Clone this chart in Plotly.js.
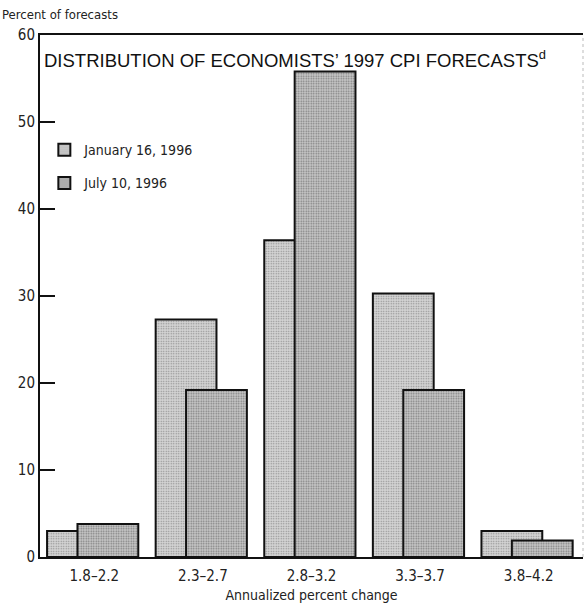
<!DOCTYPE html>
<html>
<head>
<meta charset="utf-8">
<script src="https://cdn.plot.ly/plotly-3.0.1.min.js"></script>
<style>html,body{margin:0;padding:0;background:#fff;}#chart{width:585px;height:607px;}</style>
</head>
<body>
<div id="chart"></div>
<script>
const categories = ["1.8–2.2", "2.3–2.7", "2.8–3.2", "3.3–3.7", "3.8–4.2"];
const janValues = [3.0, 27.3, 36.4, 30.3, 3.0];
const julValues = [3.8, 19.2, 55.8, 19.2, 1.9];
const seriesNames = ["January 16, 1996", "July 10, 1996"];
const yTicks = [0, 10, 20, 30, 40, 50, 60];

const narrow = "Liberation Sans Narrow, DejaVu Sans Condensed, Arial Narrow, sans-serif";

const traces = [
  {
    type: "bar", x: categories, y: janValues, name: seriesNames[0],
    width: 0.56, offset: -0.435, legendgroup: "a",
    marker: {color: "#c9c9c9", line: {color: "#111", width: 2},
      pattern: {shape: ".", fgcolor: "#8a8a8a", bgcolor: "#d4d4d4", size: 2.5, solidity: 0.25}},
    hoverinfo: "skip"
  },
  {
    type: "bar", x: categories, y: julValues, name: seriesNames[1],
    width: 0.56, offset: -0.155, legendgroup: "b",
    marker: {color: "#b9b9b9", line: {color: "#111", width: 2},
      pattern: {shape: ".", fgcolor: "#7a7a7a", bgcolor: "#c8c8c8", size: 2.5, solidity: 0.35}},
    hoverinfo: "skip"
  }
];

const layout = {
  width: 585, height: 607,
  margin: {l: 40, r: 2, t: 35, b: 50},
  paper_bgcolor: "#fff", plot_bgcolor: "#fff",
  barmode: "overlay",
  showlegend: true,
  legend: {x: 0.008, y: 0.81, xanchor: "left", yanchor: "top", bgcolor: "rgba(0,0,0,0)",
    font: {family: narrow, size: 14, color: "#222"}, traceorder: "grouped", tracegroupgap: 12},
  xaxis: {
    type: "category", range: [-0.5, 4.5], showline: true, linecolor: "#111", linewidth: 2,
    mirror: true, ticks: "", showgrid: false, zeroline: false, ticklabelstandoff: 4,
    tickfont: {family: narrow, size: 15, color: "#222"},
    title: {text: "Annualized percent change", font: {family: narrow, size: 14, color: "#222"}, standoff: 6}
  },
  yaxis: {
    range: [0, 60], tickvals: yTicks, showline: true, linecolor: "#111", linewidth: 2,
    ticks: "inside", ticklen: 15, tickwidth: 2, tickcolor: "#111", showgrid: false, zeroline: false,
    tickfont: {family: narrow, size: 15, color: "#222"}, ticklabelstandoff: 0
  },
  annotations: [
    {xref: "paper", yref: "paper", x: 0.004, y: 0.98, xanchor: "left", yanchor: "top", showarrow: false,
      text: "DISTRIBUTION OF ECONOMISTS’ 1997 CPI FORECASTS<sup>d</sup>",
      font: {family: "Liberation Sans, Arial, sans-serif", size: 18.5, color: "#111"}},
    {xref: "paper", yref: "paper", x: -0.0735, y: 1.0, xanchor: "left", yanchor: "bottom", yshift: 11, showarrow: false,
      text: "Percent of forecasts", font: {family: narrow, size: 13, color: "#222"}}
  ],
  shapes: [
    {type: "line", xref: "paper", yref: "paper", x0: 1, x1: 1, y0: 0, y1: 1,
      line: {color: "#bbb", width: 1, dash: "dot"}}
  ]
};

Plotly.newPlot("chart", traces, layout, {displayModeBar: false, staticPlot: true});
</script>
</body>
</html>
